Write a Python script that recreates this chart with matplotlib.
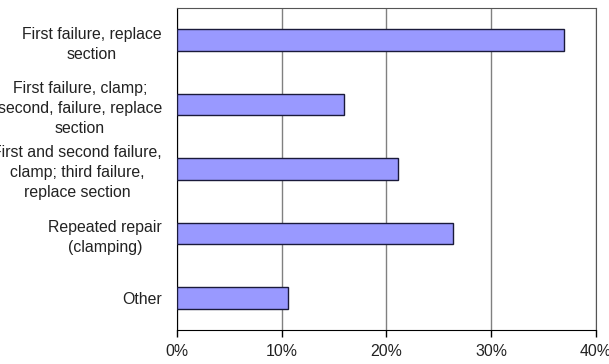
import matplotlib.pyplot as plt
from matplotlib.ticker import FuncFormatter

plt.rcParams['font.family'] = ['Liberation Sans', 'DejaVu Sans']

categories = [
    'First failure, replace\nsection',
    'First failure, clamp;\nsecond, failure, replace\nsection',
    'First and second failure,\nclamp; third failure,\nreplace section',
    'Repeated repair\n(clamping)',
    'Other',
]
shares = [37.0, 15.9, 21.1, 26.4, 10.55]
xticks = [0, 10, 20, 30, 40]

fig = plt.figure(figsize=(6.09, 3.64), dpi=100)
ax = fig.add_axes([0.291, 0.0934, 0.687, 0.885])

ypos = list(range(len(categories)))
ax.barh(ypos, shares, height=0.335, color='#9999FF', edgecolor='#1a1a3a',
        linewidth=1.0, zorder=3)

ax.set_ylim(len(categories) - 0.5, -0.5)
ax.set_xlim(0, 40)
ax.set_xticks(xticks)
ax.xaxis.set_major_formatter(FuncFormatter(lambda v, p: f'{v:.0f}%'))
ax.grid(axis='x', color='#808080', linewidth=1.0, zorder=0)

ax.set_yticks(ypos)
ax.set_yticklabels(categories, ha='right', multialignment='center',
                   linespacing=1.42, color='#222222')
ax.tick_params(axis='y', length=0, labelsize=11.4, pad=11)
ax.tick_params(axis='x', length=5, width=1, direction='out',
               labelsize=11.4, pad=5, color='#000000', labelcolor='#222222')

for side in ['top', 'right']:
    ax.spines[side].set_color('#555555')
for side in ['left', 'bottom']:
    ax.spines[side].set_color('#000000')

fig.savefig('out.png', dpi=100)
